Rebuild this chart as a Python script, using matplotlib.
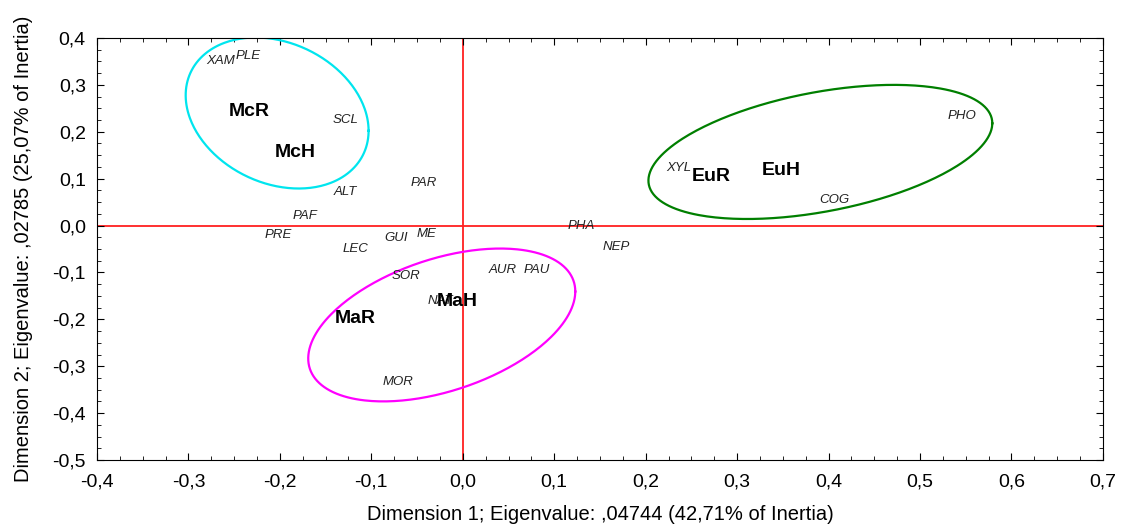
import numpy as np
import matplotlib.pyplot as plt
from matplotlib.ticker import MultipleLocator, FuncFormatter

plt.rcParams['font.family'] = ['Liberation Sans', 'DejaVu Sans']

# species (column points), italic labels
species = ['XAM', 'PLE', 'SCL', 'ALT', 'PAR', 'PAF', 'PRE', 'LEC', 'GUI', 'ME',
           'SOR', 'AUR', 'PAU', 'NAT', 'MOR', 'PHA', 'NEP', 'XYL', 'COG', 'PHO']
sp_x = [-0.281, -0.248, -0.142, -0.141, -0.057, -0.186, -0.217, -0.131, -0.086, -0.051,
        -0.078, 0.028, 0.067, -0.039, -0.088, 0.115, 0.153, 0.223, 0.390, 0.530]
sp_y = [0.351, 0.362, 0.225, 0.071, 0.090, 0.021, -0.021, -0.049, -0.027, -0.017,
        -0.108, -0.095, -0.095, -0.160, -0.333, -0.001, -0.046, 0.122, 0.054, 0.234]

# groups (row points), bold labels
groups = ['McR', 'McH', 'MaR', 'MaH', 'EuR', 'EuH']
gr_x = [-0.256, -0.206, -0.140, -0.029, 0.250, 0.327]
gr_y = [0.244, 0.156, -0.199, -0.162, 0.105, 0.118]

# ellipses: centre, half-extent in x and y, phase (tilt)
ell_cx = [-0.203, -0.023, 0.391]
ell_cy = [0.240, -0.212, 0.157]
ell_rx = [0.100, 0.146, 0.188]
ell_ry = [0.161, 0.163, 0.143]
ell_phase = [103.6, 64.0, 64.7]
ell_col = ['#00e5ee', '#ff00ff', '#007f00']

fig = plt.figure(figsize=(11.25, 5.32), dpi=100)
ax = fig.add_axes([0.0862, 0.1353, 0.8942, 0.7933])

ax.axhline(0, color='#ff2020', lw=1.3, zorder=1)
ax.axvline(0, color='#ff2020', lw=1.3, zorder=1)

t = np.linspace(0, 2 * np.pi, 300)
for cx, cy, rx, ry, ph, c in zip(ell_cx, ell_cy, ell_rx, ell_ry, ell_phase, ell_col):
    ax.plot(cx + rx * np.cos(t), cy + ry * np.cos(t - np.radians(ph)), color=c, lw=1.6, zorder=2)

for s, x, y in zip(species, sp_x, sp_y):
    ax.text(x, y, s, fontsize=9.5, style='italic', ha='left', va='center', color='#222222', zorder=3)
for g, x, y in zip(groups, gr_x, gr_y):
    ax.text(x, y, g, fontsize=14, fontweight='bold', ha='left', va='center', color='black', zorder=4)

ax.set_xlim(-0.4, 0.7)
ax.set_ylim(-0.5, 0.4)
ax.xaxis.set_major_locator(MultipleLocator(0.1))
ax.yaxis.set_major_locator(MultipleLocator(0.1))
ax.xaxis.set_minor_locator(MultipleLocator(0.025))
ax.yaxis.set_minor_locator(MultipleLocator(0.025))
fmt = FuncFormatter(lambda v, p: ('%.1f' % v).replace('.', ',').replace('-0,0', '0,0'))
ax.xaxis.set_major_formatter(fmt)
ax.yaxis.set_major_formatter(fmt)
ax.tick_params(which='both', direction='in', top=True, right=True, labelsize=14)
ax.tick_params(axis='x', which='major', length=5, pad=10)
ax.tick_params(axis='y', which='major', length=5, pad=8)
ax.tick_params(which='minor', length=3)

ax.set_xlabel('Dimension 1; Eigenvalue: ,04744 (42,71% of Inertia)', fontsize=14.5, labelpad=10)
ax.set_ylabel('Dimension 2; Eigenvalue: ,02785 (25,07% of Inertia)', fontsize=14.5, labelpad=14)

fig.savefig('out.png')
